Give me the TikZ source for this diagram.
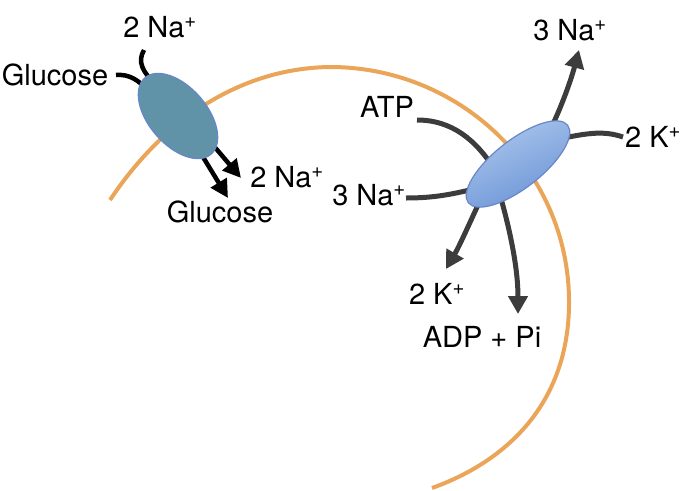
\documentclass[tikz,border=0pt]{standalone}
\usepackage{fontspec}
\setmainfont{TeX Gyre Heros}
\usetikzlibrary{shapes.geometric,arrows.meta}
\definecolor{membrane}{RGB}{234,165,88}
\definecolor{arrowgray}{RGB}{60,60,60}
\definecolor{tealfill}{RGB}{96,146,168}
\definecolor{protedge}{RGB}{105,135,200}
\definecolor{bluelight}{RGB}{175,202,238}
\definecolor{bluedark}{RGB}{108,148,214}
\begin{document}
\begin{tikzpicture}[x=1pt,y=-1pt,
  lbl/.style={font=\fontsize{29}{31}\selectfont,inner sep=0pt,anchor=base},
  blackline/.style={line width=4.5pt,black},
  blackarrow/.style={line width=4.5pt,black,-{Triangle[length=18pt,width=18pt]}},
  grayline/.style={line width=5pt,arrowgray},
  grayarrow/.style={line width=5pt,arrowgray,-{Triangle[length=18pt,width=19pt]}},
  protein/.style={ellipse,inner sep=0pt,line width=1.2pt,draw=protedge}
]
\useasboundingbox (0,0) rectangle (685,490);

% membrane
\draw[membrane,line width=4pt] (110,200) .. controls (170,110) and (250,68) .. (330,67)
  .. controls (460,67) and (568,170) .. (569,300)
  .. controls (570,400) and (510,460) .. (432,488);

% labels
\node[lbl] (na1) at (160,37) {2 Na\textsuperscript{+}};
\node[lbl] (glc1) at (55,85) {Glucose};
\node[lbl] (na2) at (287,187) {2 Na\textsuperscript{+}};
\node[lbl] (glc2) at (220,222) {Glucose};
\node[lbl] (na3) at (570,40) {3 Na\textsuperscript{+}};
\node[lbl] (k1) at (653,147) {2 K\textsuperscript{+}};
\node[lbl] (atp) at (387,117) {ATP};
\node[lbl] (na4) at (369,205) {3 Na\textsuperscript{+}};
\node[lbl] (k2) at (437,304) {2 K\textsuperscript{+}};
\node[lbl] (adp) at (482,347) {ADP + Pi};

% connector coordinates
\coordinate (p1c) at (178,116);
\coordinate (p2c) at (518,164);
\coordinate (na1e) at (144,50);
\coordinate (glc1e) at (116,75);
\coordinate (na2e) at (241,178);
\coordinate (glc2e) at (228,198);
\coordinate (na3e) at (579,50);
\coordinate (k1e) at (623,137);
\coordinate (atpe) at (417,120);
\coordinate (na4e) at (406,198);
\coordinate (k2e) at (446,269);
\coordinate (adpe) at (518,314);

% left transporter connectors
\draw[blackline] (na1e) .. controls (137,62) and (143,72) .. (155,84);
\draw[blackline] (glc1e) .. controls (130,74) and (138,80) .. (150,92);
\draw[blackarrow] (p1c) -- (glc2e);
\draw[blackarrow] (185,112) -- (na2e);

% right pump connectors
\draw[grayarrow] (545,140) .. controls (560,112) and (571,80) .. (na3e);
\draw[grayline] (k1e) .. controls (605,131) and (590,132) .. (555,140);
\draw[grayline] (atpe) .. controls (452,120) and (476,140) .. (495,170);
\draw[grayline] (na4e) .. controls (432,198) and (452,195) .. (485,186);
\draw[grayarrow] (485,190) .. controls (470,222) and (460,245) .. (k2e);
\draw[grayarrow] (500,195) .. controls (510,230) and (518,268) .. (adpe);

% proteins
\node[protein,fill=tealfill,minimum width=101pt,minimum height=58pt,rotate=-49] (sglt) at (p1c) {};
\node[protein,top color=bluelight,bottom color=bluedark,shading angle=25,minimum width=126pt,minimum height=48pt,rotate=38] (pump) at (p2c) {};
\end{tikzpicture}
\end{document}
